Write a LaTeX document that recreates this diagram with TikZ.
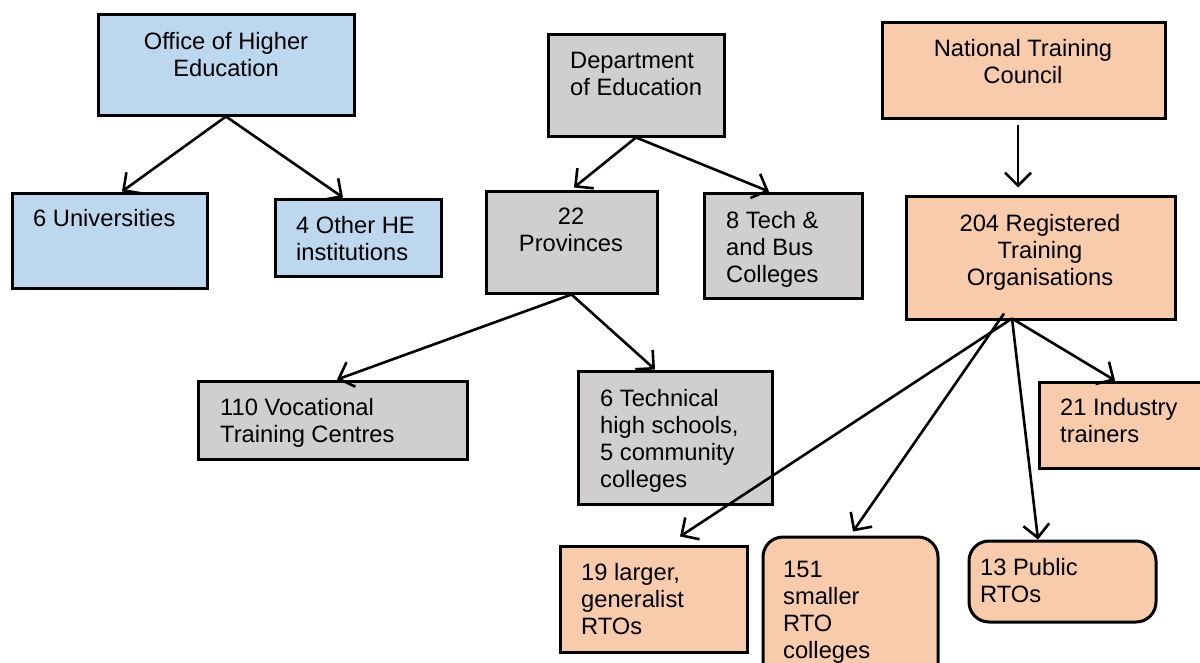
\documentclass[tikz,border=0pt]{standalone}
\usepackage{fontspec}
\setmainfont{Liberation Sans}
\usetikzlibrary{arrows.meta,calc}
\definecolor{hedblue}{RGB}{189,215,238}
\definecolor{edgrey}{RGB}{208,206,206}
\definecolor{vetpeach}{RGB}{248,203,173}
\begin{document}
\begin{tikzpicture}[x=1pt,y=-1pt,
  orgbox/.style={draw=black, line width=3pt, inner sep=0pt},
  roundbox/.style={orgbox, rounded corners=20pt},
  % label nodes are anchored on the baseline of their last line
  lbl/.style={font=\fontsize{23.7}{27}\selectfont, inner sep=0pt, align=left, anchor=base west},
  clbl/.style={lbl, align=center, anchor=base},
  arr/.style={-{Straight Barb[length=13pt,width=26pt,line width=2.6pt]}, line width=2.6pt}
]
\useasboundingbox (0,0) rectangle (1200,662);

% Higher education branch
\node[orgbox, fill=hedblue, minimum width=256pt, minimum height=101pt] (ohe) at (226,64.5) {};
\node[orgbox, fill=hedblue, minimum width=195pt, minimum height=95pt] (uni) at (109.5,240.5) {};
\node[orgbox, fill=hedblue, minimum width=166pt, minimum height=77pt] (ohei) at (358,237.5) {};

% Department of Education branch
\node[orgbox, fill=edgrey, minimum width=176pt, minimum height=102pt] (doe) at (636,85) {};
\node[orgbox, fill=edgrey, minimum width=171pt, minimum height=102pt] (prov) at (571.5,242) {};
\node[orgbox, fill=edgrey, minimum width=158pt, minimum height=105pt] (tech) at (783,245.5) {};
\node[orgbox, fill=edgrey, minimum width=269pt, minimum height=78pt] (voc) at (332.5,420) {};
\node[orgbox, fill=edgrey, minimum width=194pt, minimum height=133pt] (tsch) at (675,437.5) {};

% National Training Council branch
\node[orgbox, fill=vetpeach, minimum width=283pt, minimum height=96pt] (ntc) at (1023.5,70) {};
\node[orgbox, fill=vetpeach, minimum width=269pt, minimum height=123pt] (rto) at (1040.5,257.5) {};
\node[orgbox, fill=vetpeach, minimum width=186pt, minimum height=86pt] (ind) at (1132,425) {};
\node[orgbox, fill=vetpeach, minimum width=187pt, minimum height=106pt] (large) at (653.5,599) {};
\node[roundbox, fill=vetpeach, minimum width=175pt, minimum height=163pt] (small) at (850.5,618.5) {};
\node[roundbox, fill=vetpeach, minimum width=187pt, minimum height=81pt] (pub) at (1062.5,581.5) {};

% Labels
\node[clbl] (t-ohe) at (226,76) {Office of Higher\\Education};
\node[lbl] (t-uni) at (33,226) {6 Universities};
\node[lbl] (t-ohei) at (296,260) {4 Other HE\\institutions};
\node[lbl] (t-doe) at (570,95) {Department\\of Education};
\node[clbl] (t-prov) at (571,251) {22\\Provinces};
\node[lbl] (t-tech) at (726,282) {8 Tech \&\\and Bus\\Colleges};
\node[lbl] (t-voc) at (220,442) {110 Vocational\\Training Centres};
\node[lbl] (t-tsch) at (600,487) {6 Technical\\high schools,\\5 community\\colleges};
\node[clbl] (t-ntc) at (1023,83) {National Training\\Council};
\node[clbl] (t-rto) at (1040,285) {204 Registered\\Training\\Organisations};
\node[lbl] (t-ind) at (1060,442) {21 Industry\\trainers};
\node[lbl] (t-large) at (581,634) {19 larger,\\generalist\\RTOs};
\node[lbl] (t-small) at (783,658) {151\\smaller\\RTO\\colleges};
\node[lbl] (t-pub) at (980,602) {13 Public\\RTOs};

% Connectors
\draw[arr] (ohe.south) -- (uni.north -| 122,0);
\draw[arr] (ohe.south) -- (ohei.north -| 343,0);
\draw[arr] (doe.south) -- ($(prov.north -| 574,0)+(0,-2)$);
\draw[arr] (doe.south) -- (tech.north -| 769,0);
\draw[arr] (prov.south) -- (voc.north -| 337,0);
\draw[arr] (prov.south) -- (tsch.north -| 655,0);
\draw[arr] ($(ntc.south -| 1018,0)+(0,5)$) -- ($(rto.north -| 1018,0)+(0,-7)$);

\coordinate (hub) at ($(rto.south -| 1012,0)+(0,-2)$);
\coordinate (hubb) at ($(rto.south -| 1004,0)+(0,-7)$);
\draw[arr] (hub) -- ($(large.north -| 680,0)+(0,-8)$);
\draw[arr] (hubb) -- ($(small.north -| 853,0)+(0,-4)$);
\draw[arr] (hub) -- (pub.north -| 1038,0);
\draw[arr] (hub) -- (ind.north -| 1115,0);
\end{tikzpicture}
\end{document}
